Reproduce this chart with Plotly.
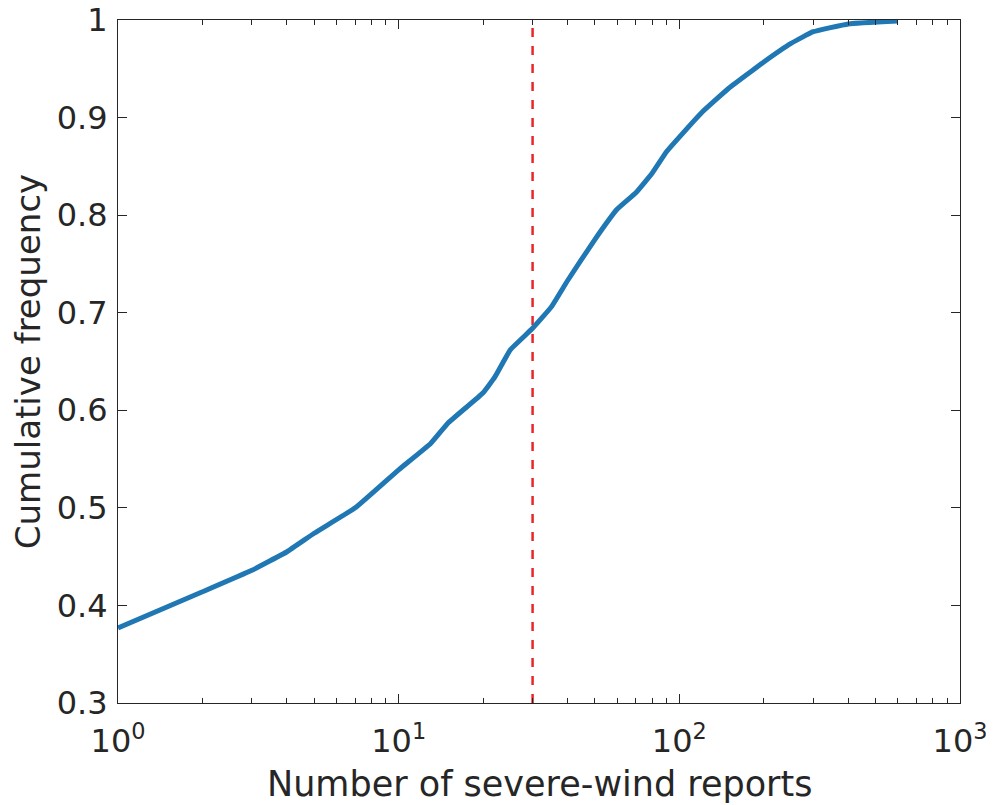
import plotly.graph_objects as go

reports = [1, 2, 3, 4, 5, 7, 10, 13, 15, 20, 22, 25, 30, 35, 40, 50, 60, 70, 80, 90,
           100, 120, 150, 200, 250, 300, 400, 600]
cum_freq = [0.377, 0.414, 0.436, 0.455, 0.474, 0.500, 0.539, 0.566, 0.587, 0.618,
            0.634, 0.662, 0.684, 0.706, 0.733, 0.775, 0.806, 0.823, 0.843, 0.865,
            0.880, 0.905, 0.930, 0.957, 0.976, 0.988, 0.996, 0.999]
threshold = 30

x_tickvals = [1, 10, 100, 1000]
x_ticktext = ["10<sup>0</sup>", "10<sup>1</sup>", "10<sup>2</sup>", "10<sup>3</sup>"]
y_tickvals = [0.3, 0.4, 0.5, 0.6, 0.7, 0.8, 0.9, 1.0]
y_ticktext = ["0.3", "0.4", "0.5", "0.6", "0.7", "0.8", "0.9", "1"]
x_title = "Number of severe-wind reports"
y_title = "Cumulative frequency"

minor_vals = [m * 10 ** d for d in range(3) for m in range(2, 10)]

fig = go.Figure()
fig.add_trace(go.Scatter(x=[threshold, threshold], y=[0.3, 1.0], mode="lines",
                         line=dict(color="#e8262b", width=2.5, dash="dash"),
                         showlegend=False))
fig.add_trace(go.Scatter(x=reports, y=cum_freq, mode="lines",
                         line=dict(color="#1f77b4", width=5, shape="spline", smoothing=0.3),
                         showlegend=False))

axis_common = dict(showline=True, linecolor="#262626", linewidth=1, mirror="ticks",
                   ticks="inside", tickcolor="#262626", showgrid=False, zeroline=False,
                   automargin=False, ticklabeloverflow="allow",
                   tickfont=dict(family="DejaVu Sans", size=32, color="#262626"))

fig.update_xaxes(type="log", range=[0, 3], tickvals=x_tickvals, ticktext=x_ticktext,
                 ticklen=9, ticklabelstandoff=10,
                 minor=dict(tickvals=minor_vals, ticks="inside", ticklen=5,
                            tickcolor="#262626", showgrid=False),
                 **axis_common)
fig.update_yaxes(range=[0.3, 1.0], tickvals=y_tickvals, ticktext=y_ticktext,
                 ticklen=9, ticklabelstandoff=3,
                 title=dict(text=y_title,
                            font=dict(family="DejaVu Sans", size=34, color="#262626"),
                            standoff=5),
                 **axis_common)

fig.add_annotation(text=x_title, xref="paper", yref="paper", x=0.5, y=-0.118,
                   xanchor="center", yanchor="middle", showarrow=False,
                   font=dict(family="DejaVu Sans", size=35, color="#262626"))

fig.update_layout(width=978, height=797, plot_bgcolor="white", paper_bgcolor="white",
                  margin=dict(l=110, r=26, t=12, b=102))

fig.write_html("out.html")
